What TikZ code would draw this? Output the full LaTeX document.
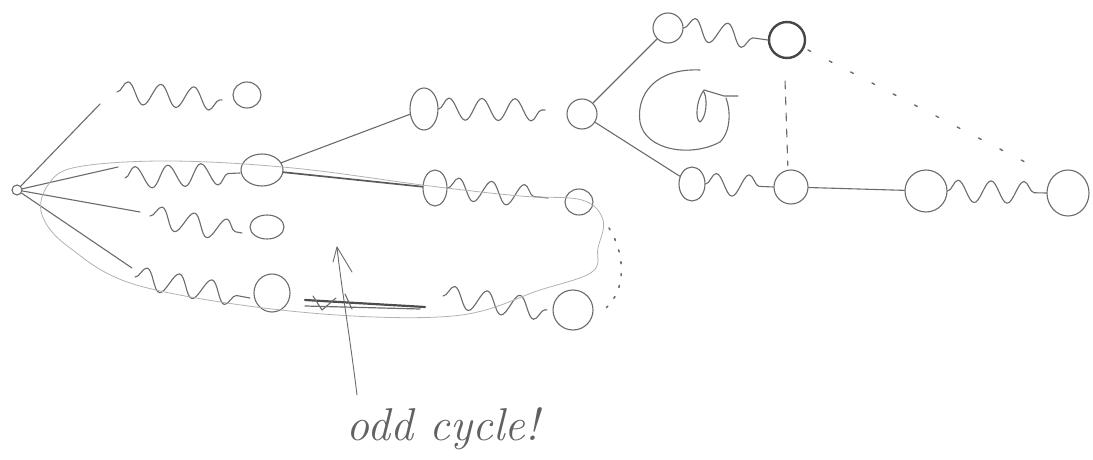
\documentclass[tikz,border=0pt]{standalone}
\usetikzlibrary{shapes.geometric,decorations.pathmorphing,calc}
\begin{document}
\begin{tikzpicture}[x=1pt,y=-1pt,
  ink/.style={draw=black!58, line width=1.1pt, line cap=round, line join=round},
  vtx/.style={ellipse, ink, inner sep=0pt, minimum width=#1},
  wig/.style={ink, decorate, decoration={snake, segment length=33pt, amplitude=11pt}},
  faint/.style={draw=black!30, line width=0.8pt, line cap=round},
]
\useasboundingbox (0,0) rectangle (1093,460);

% ---------- left part ----------
\node[vtx=10pt, minimum height=10pt] (root) at (17,190) {};
\coordinate (e1) at (100,104); \coordinate (w1s) at (117,92); \coordinate (w1e) at (222,100);
\coordinate (e2) at (118,167); \coordinate (w2s) at (125,178); \coordinate (w2e) at (240,173);
\coordinate (e3) at (140,212); \coordinate (w3s) at (150,216); \coordinate (w3e) at (242,233);
\coordinate (e4) at (132,268); \coordinate (w4s) at (135,277); \coordinate (w4e) at (250,298);

\node[vtx=28pt, minimum height=26pt] (a1) at (247,95) {};
\node[vtx=42pt, minimum height=32pt] (a2) at (262,170) {};
\node[vtx=34pt, minimum height=24pt] (a3) at (267,227) {};
\node[vtx=36pt, minimum height=38pt] (a4) at (272,293) {};

\draw[ink] (root) -- (e1);
\draw[ink] (root) -- (e2);
\draw[ink] (root) -- (e3);
\draw[ink] (root) -- (e4);
\draw[wig] (w1s) -- (w1e);
\draw[wig] (w2s) -- (w2e);
\draw[wig] (w3s) -- (w3e);
\draw[wig] (w4s) -- (w4e);

% ---------- middle ----------
\node[vtx=28pt, minimum height=42pt] (m1) at (424,109) {};
\node[vtx=30pt, minimum height=30pt] (m2) at (582,114) {};
\node[vtx=24pt, minimum height=36pt] (m3) at (435,188) {};
\node[vtx=28pt, minimum height=26pt] (m4) at (579,202) {};
\node[vtx=40pt, minimum height=40pt] (m5) at (573,310) {};
\coordinate (v1e) at (545,110);
\coordinate (v3e) at (548,198);
\coordinate (v5s) at (443,296); \coordinate (v5e) at (547,310);

\draw[ink] (a2) -- (m1);
\draw[ink, line width=1.7pt, draw=black!65] (a2) -- (m3);
\draw[wig] (m1.east) -- (v1e);
\draw[wig] (m3.east) -- (v3e);
\draw[wig] (v5s) -- (v5e);

% crossed-out edge
\coordinate (x1) at (305,300); \coordinate (x2) at (425,307);
\draw[ink, line width=2.2pt, draw=black!70] (x1) -- (x2);
\draw[ink, line width=1.2pt] ($(x1)+(0,6)$) -- ($(x2)+(-5,2)$);
\draw[ink] (313,296) -- (322,310);
\draw[ink] (345,294) -- (352,309);
\draw[ink] (322,310) -- (336,298);

% odd cycle outline
\draw[faint] plot[smooth cycle, tension=0.6] coordinates {
  (77,167) (170,161) (293,168) (430,186) (520,196) (582,200) (603,220)
  (598,248) (592,272) (540,290) (453,316) (300,312) (140,286) (70,248) (42,215) (48,185)};
% dotted arc
\draw[ink, dash pattern=on 2pt off 10pt, line width=1.6pt] (609,228) .. controls (626,255) and (626,290) .. (606,308);

% arrow and label
\node[anchor=base, text=black!62, font=\fontsize{46}{50}\selectfont\itshape] (lbl) at (443,440) {odd cycle!};
\coordinate (tip) at (337,247);
\coordinate (tail) at (357,395);
\draw[ink, line width=0.9pt] (tail) .. controls (349,330) and (341,285) .. (tip);
\draw[ink, line width=0.9pt] (333,262) -- (tip) -- (352,272);

% ---------- right part ----------
\node[vtx=30pt, minimum height=30pt] (t1) at (668,28) {};
\node[vtx=36pt, minimum height=36pt, line width=2.4pt, draw=black!72] (t2) at (787,40) {};
\node[vtx=26pt, minimum height=34pt] (b1) at (692,184) {};
\node[vtx=34pt, minimum height=34pt] (b2) at (791,187) {};
\node[vtx=42pt, minimum height=42pt] (r1) at (926,191) {};
\node[vtx=42pt, minimum height=46pt] (r2) at (1068,193) {};

\draw[ink] (m2) -- (t1);
\draw[ink] (m2) -- (b1);
\draw[wig] (t1.east) -- (t2.west);
\draw[wig] (b1.east) -- (b2.west);
\draw[ink] (b2) -- (r1);
\draw[wig] (r1.east) -- (r2.west);
\draw[ink, dash pattern=on 8pt off 8pt, shorten <=22pt, shorten >=4pt] (t2.262) -- (b2.100);
\draw[ink, dash pattern=on 3pt off 21pt, line width=1.4pt, shorten <=4pt, shorten >=12pt] (t2.-25) -- (r2.north west);

% rotation symbol
\draw[ink] (700,70) .. controls (655,68) and (636,95) .. (640,122)
  .. controls (645,150) and (690,158) .. (720,142)
  .. controls (732,130) and (730,108) .. (726,98);
\draw[ink] (738,96) -- (724,96) -- (704,90) .. controls (696,100) and (695,120) .. (700,122)
  .. controls (706,118) and (708,100) .. (704,92);
\end{tikzpicture}
\end{document}
